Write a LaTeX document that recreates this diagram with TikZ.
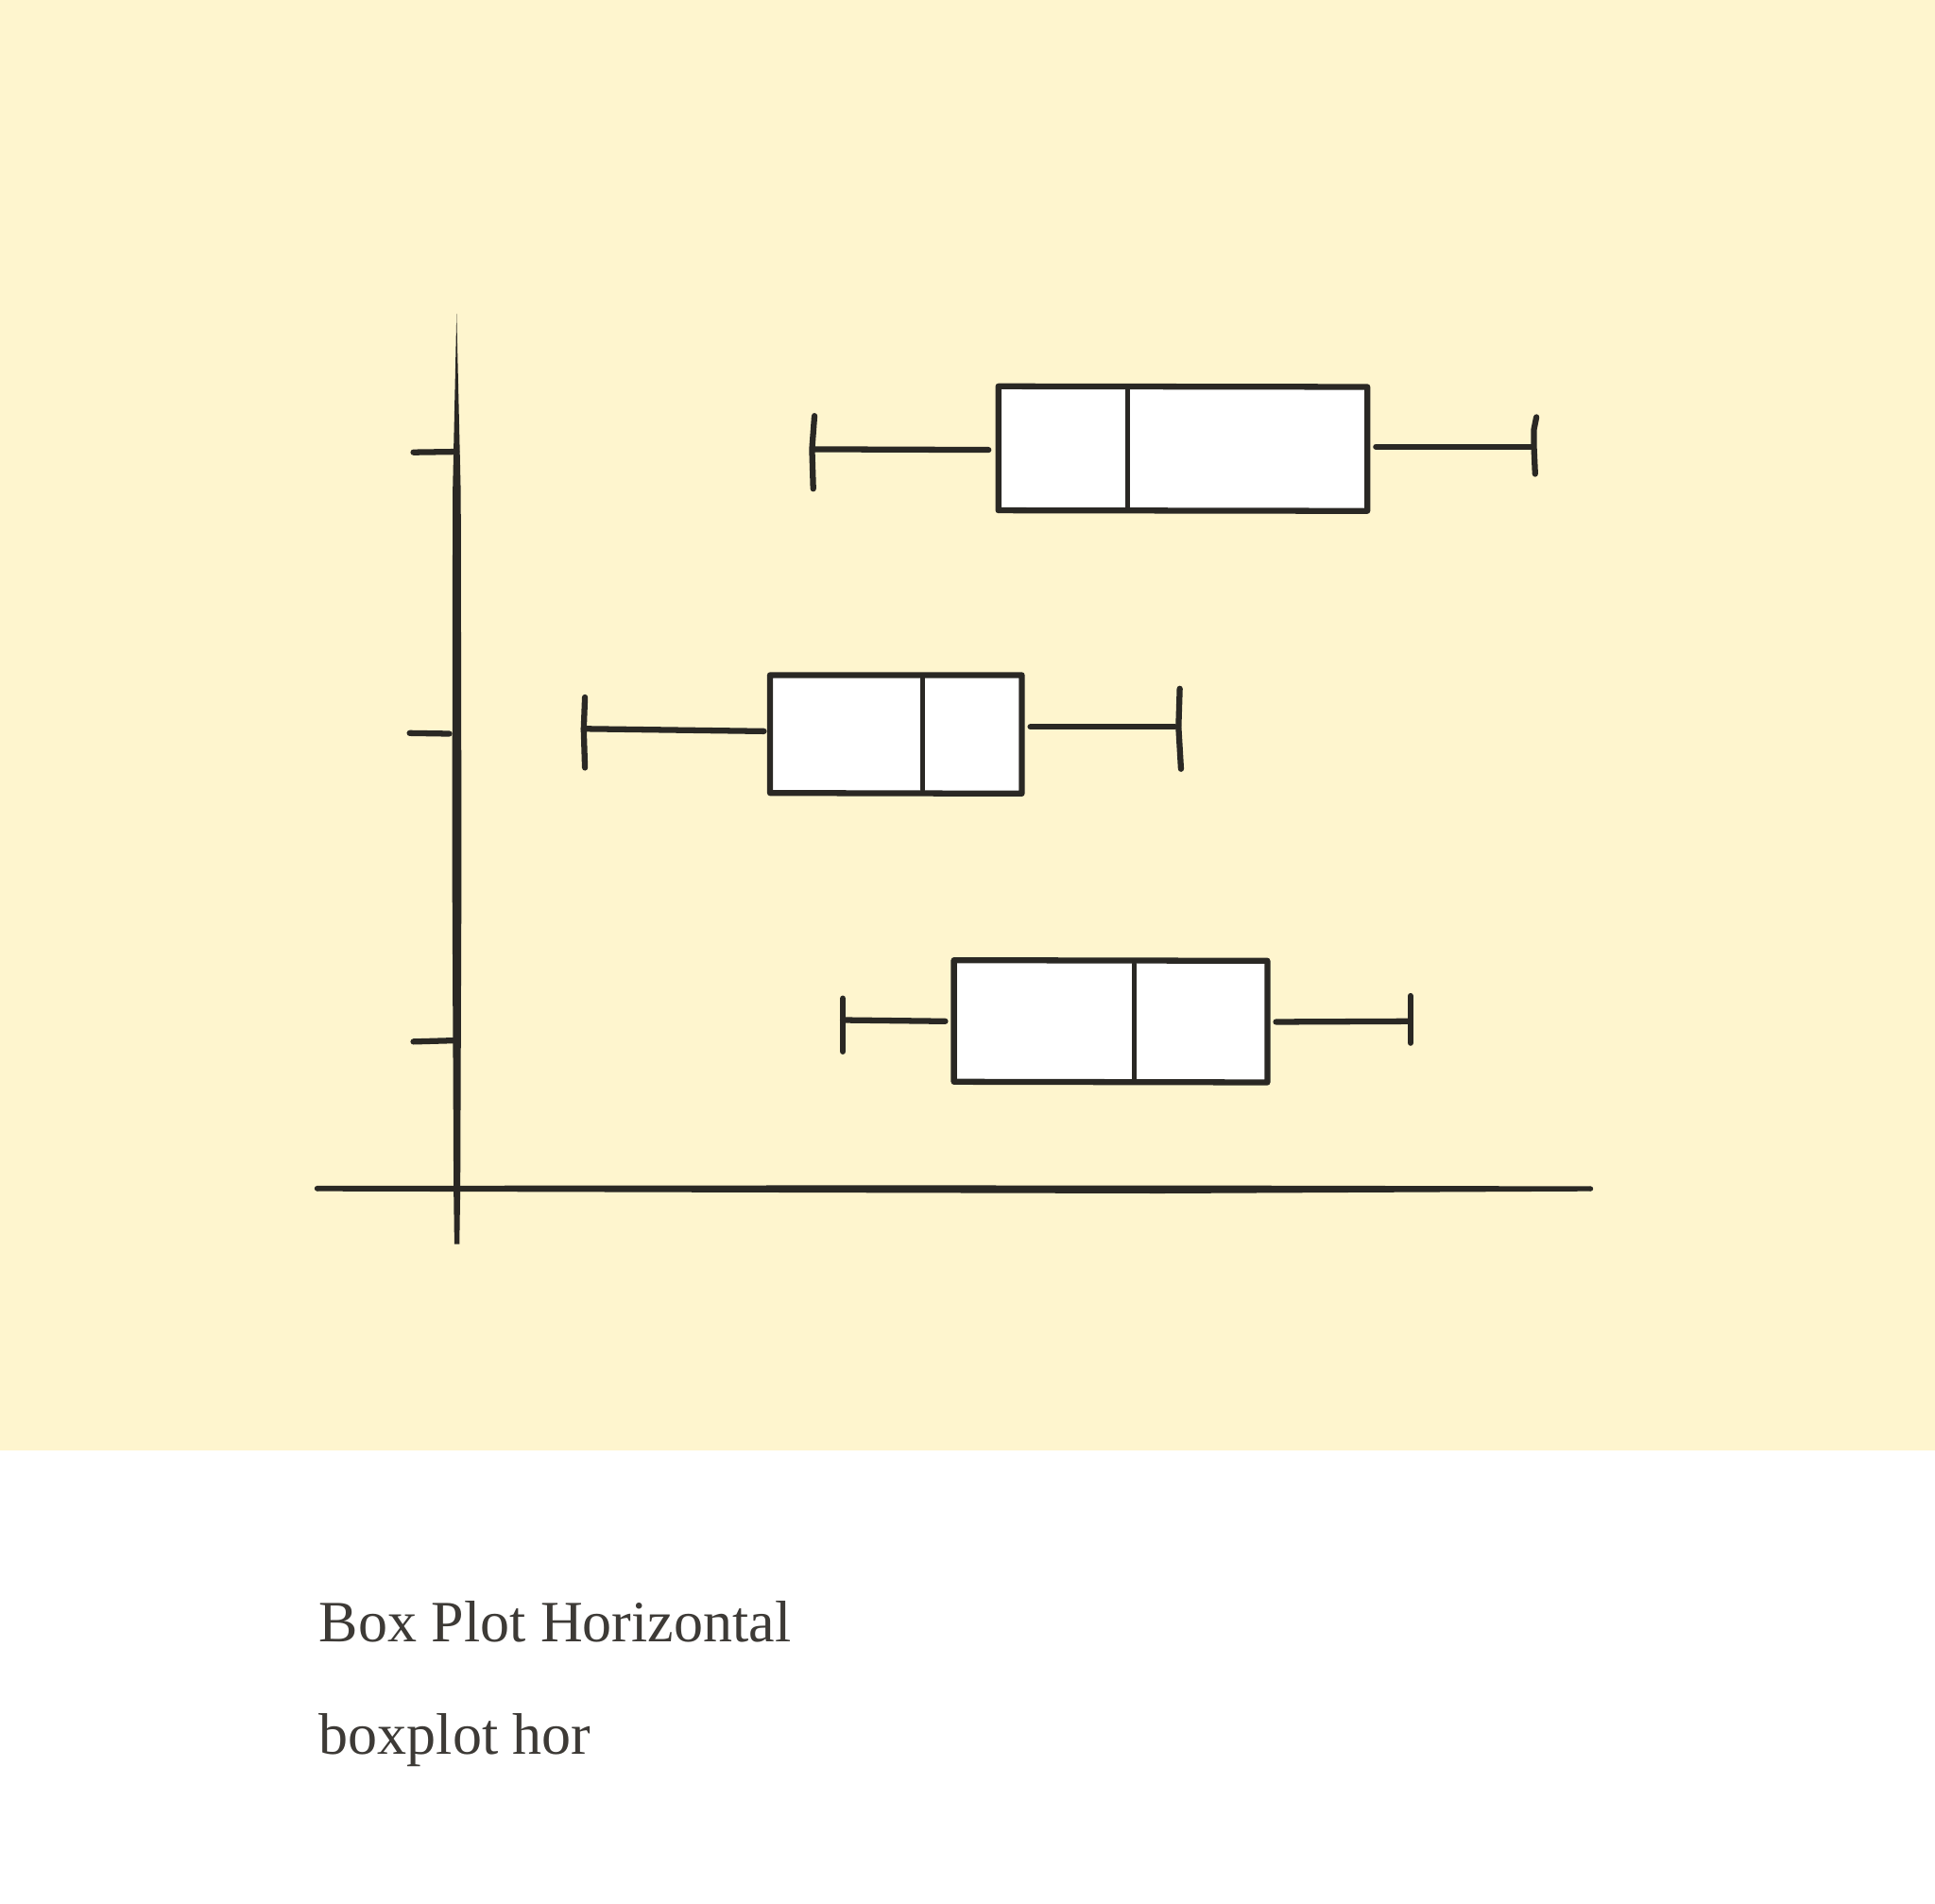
\documentclass[tikz,border=0pt]{standalone}
\usepackage{fontspec}
\setmainfont{Liberation Serif}
\definecolor{bgyellow}{HTML}{FEF5CE}
\definecolor{ink}{HTML}{2A2824}
\definecolor{txt}{HTML}{3D3A36}
\tikzset{
  stroke/.style={draw=ink, line width=0.048cm, line cap=round, line join=round},
  thinstroke/.style={draw=ink, line width=0.038cm, line cap=round},
  boxshape/.style={stroke, fill=white},
  caption/.style={anchor=base west, inner sep=0pt, text=txt, font=\fontsize{13.5}{16}\selectfont}
}
\begin{document}
\begin{tikzpicture}[x=0.01cm, y=-0.01cm]
\useasboundingbox (0,0) rectangle (1568,1542);
\fill[white] (0,0) rectangle (1568,1542);
\fill[bgyellow] (0,0) rectangle (1568,1175);

% vertical axis (tapered stroke)
\fill[ink] (370,254) -- (373.4,400) -- (374,700) -- (373,963) -- (372.3,1008) -- (368.2,1008) -- (367.6,963) -- (366.4,700) -- (366.8,400) -- cycle;
% horizontal axis
\fill[ink] (257,960.8) -- (700,960.4) -- (1000,960.6) -- (1289,961.2) -- (1289,965.2) -- (940,967) -- (700,966.4) -- (257,965.2) -- cycle;
\fill[ink] (257,963) circle (2.2);
\fill[ink] (1289,963.2) circle (2);

% ticks
\draw[stroke] (335,366.5) -- (370,366);
\draw[stroke] (332,594) -- (364,594.5);
\draw[stroke] (335,844) -- (370,843);

% box 1
\draw[stroke] (659,364) -- (801,364.5);
\draw[stroke] (660,337) -- (658,364) -- (659,396);
\draw[stroke] (1115,362) -- (1242,362);
\draw[stroke] (1245,338) -- (1243,348) -- (1243,362) -- (1244,384);
\draw[boxshape] (809,313) -- (1108,313.5) -- (1108,414) -- (809,413.5) -- cycle;
\draw[thinstroke] (914,316) -- (914,411);

% box 2
\draw[stroke] (473,590.5) -- (619,592.5);
\draw[stroke] (474,565) -- (473,591) -- (474,622);
\draw[stroke] (835,589) -- (952,589);
\draw[stroke] (956,558) -- (955,589) -- (957,623);
\draw[boxshape] (624,547) -- (828,547) -- (828,643) -- (624,642.5) -- cycle;
\draw[thinstroke] (748,549) -- (748,640);

% box 3
\draw[stroke] (683,826.5) -- (766,827.5);
\draw[stroke] (683,809) -- (683,852);
\draw[stroke] (1034,828) -- (1142,827.5);
\draw[stroke] (1143,807) -- (1143,845);
\draw[boxshape] (773,778) -- (1027,778.5) -- (1027,877) -- (773,876.5) -- cycle;
\draw[thinstroke] (919,781) -- (919,874);

% captions
\node[caption] (title) at (258,1330) {Box Plot Horizontal};
\node[caption] (subtitle) at (258,1421) {boxplot hor};
\end{tikzpicture}
\end{document}
